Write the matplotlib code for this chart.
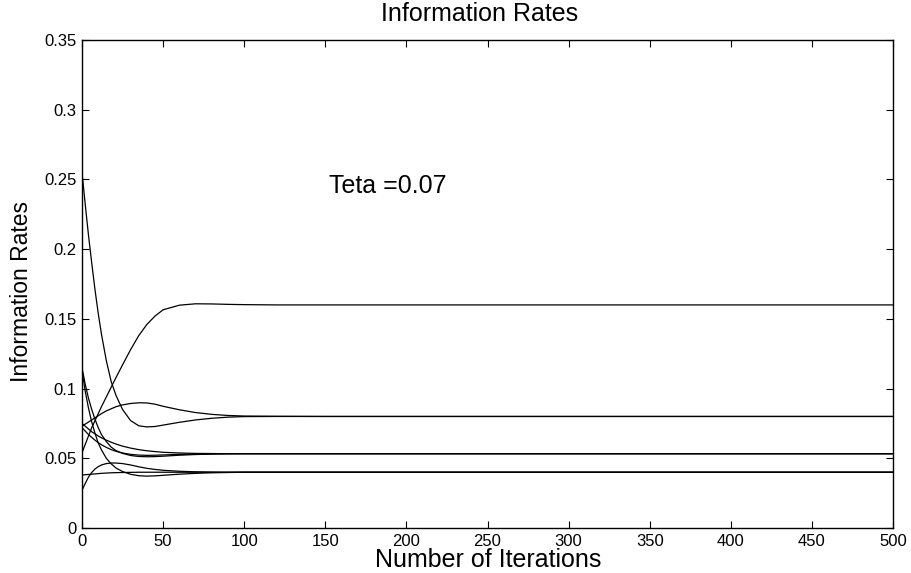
import matplotlib
matplotlib.use("Agg")
import matplotlib.pyplot as plt
import numpy as np

iters = [0, 2, 4, 6, 8, 10, 12, 15, 18, 21, 25, 30, 35, 40, 45, 50, 60, 70, 80, 90, 100, 120, 150, 200, 500]

rate_a = [0.255, 0.232, 0.21, 0.19, 0.171, 0.154, 0.139, 0.12, 0.105, 0.095, 0.085, 0.077, 0.0733, 0.0725, 0.0728, 0.0738, 0.0758, 0.0775, 0.0787, 0.0795, 0.0799, 0.08, 0.08, 0.08, 0.08]
rate_b = [0.054, 0.06, 0.066, 0.072, 0.077, 0.082, 0.087, 0.094, 0.101, 0.108, 0.117, 0.128, 0.138, 0.146, 0.152, 0.1565, 0.1598, 0.1608, 0.1607, 0.1604, 0.1602, 0.16, 0.16, 0.16, 0.16]
rate_c = [0.073, 0.0745, 0.076, 0.0775, 0.079, 0.0805, 0.082, 0.084, 0.0855, 0.087, 0.0883, 0.0893, 0.0898, 0.0897, 0.0888, 0.0873, 0.0848, 0.0828, 0.0815, 0.0807, 0.0803, 0.0801, 0.08, 0.08, 0.08]
rate_d = [0.115, 0.103, 0.093, 0.085, 0.078, 0.072, 0.067, 0.062, 0.058, 0.0555, 0.0535, 0.052, 0.0513, 0.0511, 0.0512, 0.0515, 0.0522, 0.0527, 0.053, 0.0532, 0.0533, 0.0533, 0.0533, 0.0533, 0.0533]
rate_e = [0.113, 0.098, 0.086, 0.076, 0.068, 0.061, 0.056, 0.05, 0.046, 0.043, 0.0405, 0.0385, 0.0375, 0.0372, 0.0374, 0.0378, 0.0386, 0.0392, 0.0396, 0.0398, 0.04, 0.04, 0.04, 0.04, 0.04]
rate_f = [0.075, 0.073, 0.071, 0.069, 0.0675, 0.066, 0.0647, 0.063, 0.0615, 0.0602, 0.0587, 0.0573, 0.0562, 0.0554, 0.0548, 0.0543, 0.0538, 0.0535, 0.0534, 0.0533, 0.0533, 0.0533, 0.0533, 0.0533, 0.0533]
rate_g = [0.072, 0.0695, 0.067, 0.065, 0.063, 0.0612, 0.0597, 0.0578, 0.0562, 0.055, 0.0538, 0.0528, 0.0523, 0.0521, 0.0522, 0.0524, 0.0528, 0.053, 0.0532, 0.0533, 0.0533, 0.0533, 0.0533, 0.0533, 0.0533]
rate_h = [0.038, 0.0382, 0.0384, 0.0386, 0.0388, 0.039, 0.0392, 0.0394, 0.0396, 0.0397, 0.0398, 0.0399, 0.04, 0.04, 0.04, 0.04, 0.04, 0.04, 0.04, 0.04, 0.04, 0.04, 0.04, 0.04, 0.04]
rate_i = [0.027, 0.032, 0.0365, 0.0398, 0.0423, 0.044, 0.0452, 0.0462, 0.0466, 0.0466, 0.0462, 0.0452, 0.0439, 0.0428, 0.042, 0.0414, 0.0407, 0.0403, 0.0401, 0.04, 0.04, 0.04, 0.04, 0.04, 0.04]

series = [rate_a, rate_b, rate_c, rate_d, rate_e, rate_f, rate_g, rate_h, rate_i]

xticks = [0, 50, 100, 150, 200, 250, 300, 350, 400, 450, 500]
yticks = [0, 0.05, 0.1, 0.15, 0.2, 0.25, 0.3, 0.35]
ytick_labels = ["0", "0.05", "0.1", "0.15", "0.2", "0.25", "0.3", "0.35"]

plt.rcParams['font.family'] = ['Liberation Sans', 'DejaVu Sans']

W, H = 911, 573
fig = plt.figure(figsize=(W/100, H/100), dpi=100)
ax = fig.add_axes([82/W, 1 - 528/H, (893-82)/W, (528-40)/H])

for s in series:
    ax.plot(iters, s, color='black', lw=0.9)

ax.set_xlim(0, 500)
ax.set_ylim(0, 0.35)
ax.set_xticks(xticks)
ax.set_xticklabels([str(t) for t in xticks], fontsize=12)
ax.set_yticks(yticks)
ax.set_yticklabels(ytick_labels, fontsize=12)
ax.tick_params(direction='in', top=True, right=True, length=5, width=0.8, pad=4)
for sp in ax.spines.values():
    sp.set_linewidth(1.0)

fig.text(480/W, 1 - 14/H, "Information Rates", fontsize=18, ha='center', va='center')
fig.text(488/W, 1 - 560/H, "Number of Iterations", fontsize=18, ha='center', va='center')
fig.text(22/W, 1 - 292/H, "Information Rates", fontsize=16.5, ha='center', va='center',
         rotation=90)
ax.text(152, 0.245, "Teta =0.07", fontsize=18, va='center', ha='left')

fig.savefig("out.png", dpi=100)
